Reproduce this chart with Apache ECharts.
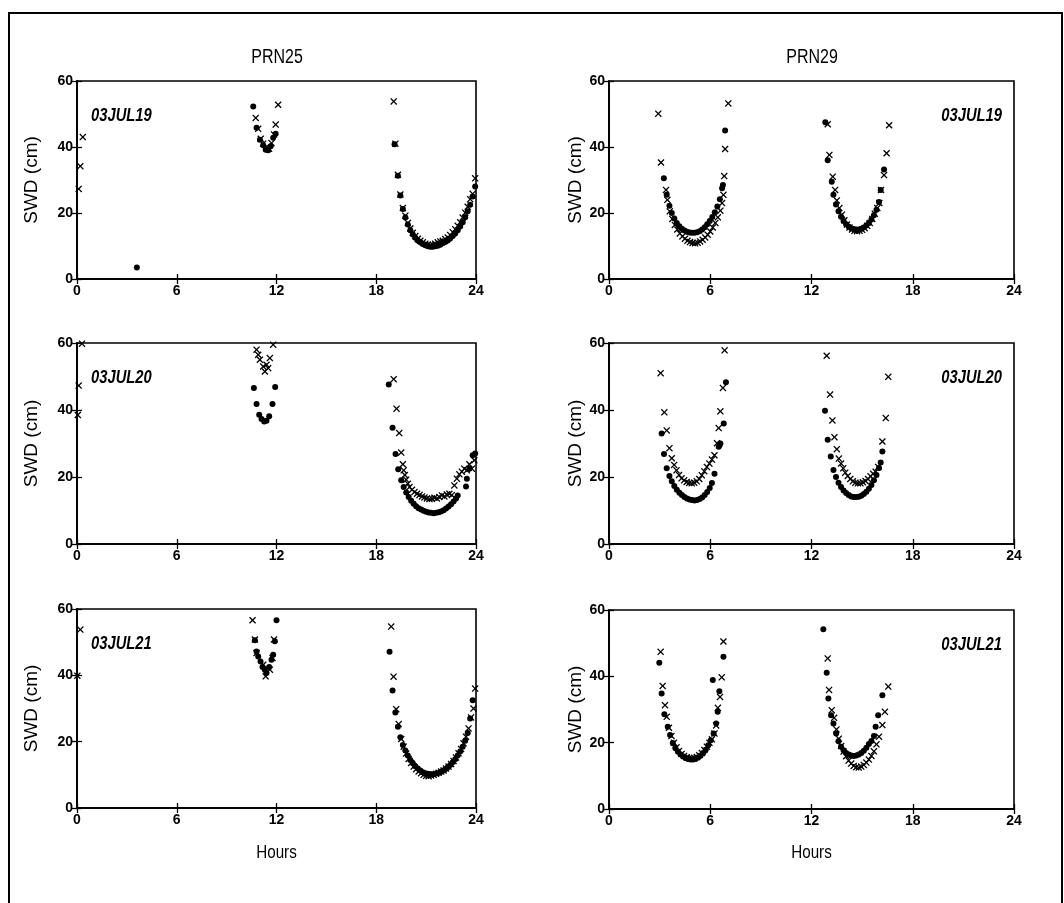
<!DOCTYPE html>
<html><head><meta charset="utf-8">
<script src="https://cdn.jsdelivr.net/npm/echarts@6/dist/echarts.min.js"></script>
<style>html,body{margin:0;padding:0;background:#fff}#c{width:1064px;height:903px}</style>
</head><body><div id="c"></div><script>
// ---------- labels ----------
const columnTitles = ['PRN25', 'PRN29'];
const dayLabels = ['03JUL19', '03JUL20', '03JUL21'];
const xAxisTitle = 'Hours';
const yAxisTitle = 'SWD (cm)';
const hourTicks = [0, 6, 12, 18, 24];
const swdTicks = [0, 20, 40, 60];

// ---------- PRN25, 03JUL19 ----------
const p25d19Dots = [[3.6,3.5],
 [10.6,52.3],[10.8,45.8],[11.0,42.2],[11.2,40.5],[11.35,39.2],[11.5,39],[11.65,40.2],[11.8,42.8],[11.95,44],
 [19.1,40.8],[19.3,31.3],[19.45,25.3],[19.6,21.2],[19.75,18.6],[19.9,16.5],[20.05,14.8],[20.2,13.5],[20.35,12.5],[20.5,11.7],[20.65,11.1],[20.8,10.6],[20.95,10.2],[21.1,9.9],[21.25,9.8],[21.4,9.8],[21.55,9.9],[21.7,10.1],[21.85,10.4],[22.0,10.8],[22.15,11.2],[22.3,11.7],[22.45,12.3],[22.6,13.0],[22.75,13.8],[22.9,14.8],[23.05,15.9],[23.2,17.2],[23.35,18.7],[23.5,20.5],[23.65,22.5],[23.8,25],[23.95,28]];
const p25d19Crosses = [[0.1,27.3],[0.2,34.2],[0.35,43],
 [10.75,48.8],[10.9,45.5],[11.05,42.5],[11.2,41],[11.4,40],[11.55,39.5],[11.7,41.2],[11.85,43.8],[11.95,46.8],[12.1,52.8],
 [19.05,53.8],[19.15,41],[19.3,31.6],[19.45,25.6],[19.6,21.5],[19.75,19.2],[19.9,17],[20.05,15.3],[20.2,14],[20.35,13],[20.5,12.2],[20.65,11.6],[20.8,11.1],[20.95,10.7],[21.1,10.4],[21.25,10.3],[21.4,10.4],[21.55,10.7],[21.7,11.1],[21.85,11.4],[22.0,11.6],[22.15,12.1],[22.3,12.6],[22.45,13.3],[22.6,14.2],[22.75,15.1],[22.9,16.1],[23.05,17.2],[23.2,18.6],[23.35,20.1],[23.5,21.9],[23.65,24.2],[23.8,25.8],[23.95,30.5]];

// ---------- PRN25, 03JUL20 ----------
const p25d20Dots = [
 [10.64,46.6],[10.8,41.8],[10.96,38.6],[11.1,37.3],[11.26,36.6],[11.4,36.8],[11.56,38.1],[11.76,41.8],[11.92,46.9],
 [18.75,47.6],[18.98,34.7],[19.16,26.9],[19.32,22.3],[19.5,19],[19.65,17],[19.8,15.4],[19.95,14],[20.1,12.9],[20.25,12],[20.4,11.3],[20.55,10.7],[20.7,10.3],[20.85,9.9],[21.0,9.6],[21.15,9.4],[21.3,9.3],[21.45,9.2],[21.6,9.3],[21.75,9.5],[21.9,9.7],[22.05,10.1],[22.2,10.6],[22.35,11.2],[22.5,11.9],[22.65,12.7],[22.8,13.6],[22.9,14.5],[23.4,17.2],[23.45,19.5],[23.6,22.5],[23.8,26.5],[23.95,27]];
const p25d20Crosses = [[0.05,38.5],[0.1,47.3],[0.3,59.8],
 [10.8,58],[10.9,56.5],[11.0,55],[11.2,53],[11.3,51.5],[11.4,53.5],[11.5,52.5],[11.6,55.5],[11.8,59.5],
 [19.05,49.2],[19.22,40.4],[19.38,33.1],[19.5,27.3],[19.6,23.8],[19.65,22],[19.72,20.6],[19.8,19.2],[19.9,18],[20.0,17],[20.15,16.2],[20.3,15.5],[20.45,15],[20.6,14.6],[20.75,14.2],[20.9,13.9],[21.05,13.6],[21.2,13.4],[21.35,13.5],[21.5,13.8],[21.65,13.6],[21.8,14],[21.95,14.5],[22.1,14.2],[22.25,14.8],[22.4,15],[22.55,14.6],[22.7,17.5],[22.85,19.5],[23.0,20.8],[23.15,21.6],[23.3,22.5],[23.45,22],[23.6,23.8],[23.75,22.5],[23.9,25]];

// ---------- PRN25, 03JUL21 ----------
const p25d21Dots = [
 [10.7,50.6],[10.8,47.2],[10.9,45.7],[11.04,44.2],[11.16,42.5],[11.3,41.7],[11.4,40.7],[11.56,42.5],[11.7,44.7],[11.8,46.2],[11.9,50.3],[12.0,56.6],
 [18.8,47.1],[18.98,35.4],[19.15,28.8],[19.3,24.5],[19.45,21.3],[19.6,19],[19.75,17.3],[19.9,15.8],[20.05,14.5],[20.2,13.5],[20.35,12.6],[20.5,11.9],[20.65,11.3],[20.8,10.8],[20.95,10.5],[21.1,10.3],[21.25,10.2],[21.4,10.2],[21.55,10.3],[21.7,10.5],[21.85,10.8],[22.0,11.2],[22.15,11.7],[22.3,12.3],[22.45,13],[22.6,13.8],[22.75,14.7],[22.9,15.8],[23.05,17],[23.2,18.5],[23.35,20.3],[23.5,22.6],[23.65,27],[23.8,32.5]];
const p25d21Crosses = [[0.02,39.9],[0.2,53.8],
 [10.56,56.6],[10.7,50.8],[10.8,46.7],[11.2,43.2],[11.35,39.7],[11.6,41.7],[11.76,45.2],[11.85,50.8],
 [18.9,54.7],[19.04,39.6],[19.2,29.8],[19.35,25.3],[19.5,20.8],[19.65,18.5],[19.8,16.4],[19.95,14.8],[20.1,13.6],[20.25,12.5],[20.4,11.7],[20.55,11],[20.7,10.5],[20.85,10],[21.0,9.7],[21.15,9.6],[21.3,9.8],[21.45,10],[21.6,10.3],[21.75,10.6],[21.9,11],[22.05,11.3],[22.2,11.9],[22.35,12.5],[22.5,13.3],[22.65,14.2],[22.8,15.2],[22.95,16.5],[23.1,17.8],[23.25,19.5],[23.4,21.5],[23.55,24],[23.7,27.3],[23.85,30],[23.95,36]];

// ---------- PRN29, 03JUL19 ----------
const p29d19Dots = [
 [3.25,30.5],[3.42,25.5],[3.58,22.2],[3.72,20],[3.87,18.3],[4.02,17],[4.17,16],[4.32,15.2],[4.47,14.7],[4.62,14.3],[4.77,14.1],[4.92,14],[5.07,14],[5.22,14.2],[5.37,14.5],[5.52,15],[5.67,15.7],[5.82,16.6],[5.97,17.6],[6.12,18.8],[6.27,20.2],[6.42,22],[6.57,24.2],[6.7,27.5],[6.75,28.5],[6.88,45],
 [12.82,47.5],[12.96,36],[13.2,29.5],[13.3,25.5],[13.45,22.6],[13.6,20.5],[13.75,18.9],[13.9,17.6],[14.05,16.6],[14.2,15.9],[14.35,15.4],[14.5,15.1],[14.65,15],[14.8,15],[14.95,15.2],[15.1,15.6],[15.25,16.2],[15.4,17],[15.55,18],[15.7,19.3],[15.85,21],[16.0,23.3],[16.1,27],[16.3,33.2]];
const p29d19Crosses = [
 [2.92,50.1],[3.08,35.3],[3.38,27],[3.46,24],[3.6,20.5],[3.75,18.2],[3.9,16.4],[4.05,15],[4.2,13.8],[4.35,12.9],[4.5,12.2],[4.65,11.6],[4.8,11.2],[4.95,10.9],[5.1,10.8],[5.25,11],[5.4,11.4],[5.55,11.9],[5.7,12.6],[5.85,13.4],[6.0,14.4],[6.15,15.6],[6.3,17],[6.45,18.7],[6.6,20.7],[6.7,23],[6.78,25.5],[6.83,31.2],[6.88,39.4],[7.07,53.2],
 [12.96,46.9],[13.06,37.6],[13.26,31],[13.4,27],[13.5,23.8],[13.65,21.5],[13.8,19.5],[13.95,17.8],[14.1,16.5],[14.25,15.6],[14.4,15],[14.55,14.6],[14.7,14.5],[14.85,14.6],[15.0,14.9],[15.15,15.4],[15.3,16.1],[15.45,17],[15.6,18.2],[15.75,19.8],[15.9,21.5],[16.02,23],[16.12,27],[16.3,31.5],[16.45,38.1],[16.6,46.6]];

// ---------- PRN29, 03JUL20 ----------
const p29d20Dots = [
 [3.12,33],[3.26,26.9],[3.42,22.6],[3.58,20.3],[3.72,18.7],[3.87,17.3],[4.02,16.2],[4.17,15.3],[4.32,14.6],[4.47,14],[4.62,13.6],[4.77,13.3],[4.92,13.1],[5.07,13],[5.22,13.1],[5.37,13.4],[5.52,13.9],[5.67,14.6],[5.82,15.5],[5.97,16.7],[6.1,18.2],[6.25,21],[6.5,29],[6.55,29.5],[6.6,30],[6.8,36],[6.93,48.3],
 [12.8,39.8],[12.96,31.1],[13.14,26.1],[13.3,22.1],[13.45,20],[13.6,18.3],[13.75,17],[13.9,16],[14.05,15.2],[14.2,14.6],[14.35,14.2],[14.5,14],[14.65,14],[14.8,14.1],[14.95,14.4],[15.1,14.9],[15.25,15.6],[15.4,16.5],[15.55,17.6],[15.7,19],[15.85,20.6],[16.0,22.7],[16.1,24.3],[16.2,27.6]];
const p29d20Crosses = [
 [3.06,51],[3.28,39.3],[3.42,33.9],[3.58,28.6],[3.72,25.6],[3.86,23.6],[4.0,22],[4.15,20.6],[4.3,19.6],[4.45,19],[4.6,18.5],[4.75,18.2],[4.9,18.1],[5.05,18.3],[5.2,18.7],[5.35,19.4],[5.5,20.5],[5.65,21.7],[5.8,23],[5.95,24],[6.1,25.2],[6.25,26.5],[6.4,30.1],[6.5,34.6],[6.6,39.6],[6.75,46.6],[6.85,57.8],
 [12.9,56.2],[13.1,44.6],[13.24,36.9],[13.36,31.9],[13.5,28.3],[13.62,25.5],[13.75,24],[13.88,22.6],[14.0,21.3],[14.15,20.3],[14.3,19.4],[14.45,18.7],[14.6,18.3],[14.75,18.1],[14.9,18.1],[15.05,18.4],[15.2,18.8],[15.35,19.4],[15.5,20.2],[15.65,21],[15.8,21.6],[15.95,23],[16.2,30.6],[16.4,37.6],[16.55,49.9]];

// ---------- PRN29, 03JUL21 ----------
const p29d21Dots = [
 [2.98,44.1],[3.12,34.8],[3.28,28.6],[3.48,24.8],[3.62,22.3],[3.78,19.9],[3.93,18.4],[4.08,17.3],[4.23,16.5],[4.38,15.9],[4.53,15.4],[4.68,15.1],[4.83,14.9],[4.98,14.9],[5.13,15.1],[5.28,15.5],[5.43,16.1],[5.58,16.9],[5.73,17.9],[5.88,19.2],[6.03,20.7],[6.15,38.9],[6.2,22.8],[6.35,25.8],[6.44,29.3],[6.54,35.5],[6.78,45.9],
 [12.7,54.2],[12.9,41.1],[13.0,33.3],[13.16,28.3],[13.3,25.8],[13.46,22.8],[13.6,20.4],[13.75,18.8],[13.9,17.7],[14.05,16.9],[14.2,16.4],[14.35,16.1],[14.5,16],[14.65,16.1],[14.8,16.4],[14.95,16.9],[15.1,17.6],[15.25,18.5],[15.4,19.6],[15.55,20.5],[15.7,22],[15.8,24.8],[15.95,28.3],[16.2,34.3]];
const p29d21Crosses = [
 [3.06,47.4],[3.18,37.1],[3.32,31.3],[3.42,27.8],[3.55,24.5],[3.7,22],[3.85,20],[4.0,18.6],[4.15,17.5],[4.3,16.6],[4.45,16],[4.6,15.6],[4.75,15.4],[4.9,15.3],[5.05,15.4],[5.2,15.7],[5.35,16.2],[5.5,16.9],[5.65,17.8],[5.8,18.8],[5.95,20],[6.1,21],[6.25,22.8],[6.35,25.2],[6.45,30.5],[6.58,33.8],[6.68,39.7],[6.78,50.5],
 [12.96,45.4],[13.04,35.9],[13.2,29.8],[13.34,27.5],[13.48,24],[13.62,21.2],[13.76,19],[13.9,17.3],[14.05,15.9],[14.2,14.6],[14.35,13.7],[14.5,13],[14.65,12.6],[14.8,12.5],[14.95,12.8],[15.1,13.3],[15.25,14],[15.4,14.9],[15.55,16],[15.7,17.4],[15.85,19.5],[16.0,21.8],[16.2,25.3],[16.35,29.3],[16.55,36.9]];

// ---------- layout ----------
const SANS = "'Liberation Sans',Arial,sans-serif";
const panels = [
  {rect:{left:77, top:81, width:399, height:198}, dots:p25d19Dots, crosses:p25d19Crosses, day:dayLabels[0], col:0, last:false},
  {rect:{left:609,top:81, width:405, height:198}, dots:p29d19Dots, crosses:p29d19Crosses, day:dayLabels[0], col:1, last:false},
  {rect:{left:77, top:343,width:399, height:201}, dots:p25d20Dots, crosses:p25d20Crosses, day:dayLabels[1], col:0, last:false},
  {rect:{left:609,top:343,width:405, height:201}, dots:p29d20Dots, crosses:p29d20Crosses, day:dayLabels[1], col:1, last:false},
  {rect:{left:77, top:609,width:399, height:199}, dots:p25d21Dots, crosses:p25d21Crosses, day:dayLabels[2], col:0, last:true},
  {rect:{left:609,top:610,width:405, height:199}, dots:p29d21Dots, crosses:p29d21Crosses, day:dayLabels[2], col:1, last:true}
];
const CROSS = 'path://M0,1.3L1.3,0L5,3.7L8.7,0L10,1.3L6.3,5L10,8.7L8.7,10L5,6.3L1.3,10L0,8.7L3.7,5Z';

const grid = [], xAxis = [], yAxis = [], series = [], graphic = [];
const line = {show:true, lineStyle:{color:'#000', width:1.6}};
const tick = {inside:true, length:5, lineStyle:{color:'#000', width:1.3}};
panels.forEach((p, i) => {
  grid.push(Object.assign({show:true, borderColor:'#000', borderWidth:1.6}, p.rect));
  const common = {min:hourTicks[0], max:hourTicks[hourTicks.length-1], interval:6, gridIndex:i, splitLine:{show:false}, axisLine:line, axisTick:tick};
  xAxis.push(Object.assign({type:'value', position:'bottom',
    axisLabel:{color:'#000', fontFamily:SANS, fontSize:14, margin:5, fontWeight:'bold'}}, common));
  xAxis.push(Object.assign({type:'value', position:'top', axisLabel:{show:false}}, common));
  const ycommon = {min:swdTicks[0], max:swdTicks[swdTicks.length-1], interval:20, gridIndex:i, splitLine:{show:false}, axisLine:line, axisTick:tick};
  yAxis.push(Object.assign({type:'value', position:'left',
    axisLabel:{color:'#000', fontFamily:SANS, fontSize:14, margin:4, fontWeight:'bold'},
    name:yAxisTitle, nameLocation:'middle', nameGap: p.col===0 ? 36 : 22, nameRotate:90,
    nameTextStyle:{color:'#000', fontFamily:SANS, fontSize:19}}, ycommon));
  yAxis.push(Object.assign({type:'value', position:'right', axisLabel:{show:false}}, ycommon));
  series.push({type:'scatter', xAxisIndex:2*i, yAxisIndex:2*i, data:p.dots, symbol:'circle', symbolSize:6,
    itemStyle:{color:'#000', opacity:1}, silent:true, clip:false});
  series.push({type:'scatter', xAxisIndex:2*i, yAxisIndex:2*i, data:p.crosses, symbol:CROSS, symbolSize:7,
    itemStyle:{color:'#000', opacity:1}, silent:true, clip:false});
  const r = p.rect;
  graphic.push({type:'text', z:10, scaleX:0.82,
    x: p.col===0 ? r.left+14 : r.left+r.width-12, y: r.top+35,
    style:{text:p.day, fill:'#000', font:'italic bold 18px ' + SANS,
      textAlign: p.col===0 ? 'left' : 'right', textVerticalAlign:'middle'}});
  if (p.last) {
    graphic.push({type:'text', z:10, scaleX:0.8, x: r.left + r.width/2, y: 853,
      style:{text:xAxisTitle, fill:'#000', font:'19px ' + SANS, textAlign:'center', textVerticalAlign:'middle'}});
  }
});
graphic.push({type:'text', scaleX:0.8, x:277, y:57, style:{text:columnTitles[0], fill:'#000', font:'20px '+SANS, textAlign:'center', textVerticalAlign:'middle'}});
graphic.push({type:'text', scaleX:0.8, x:812, y:57, style:{text:columnTitles[1], fill:'#000', font:'20px '+SANS, textAlign:'center', textVerticalAlign:'middle'}});
graphic.push({type:'rect', shape:{x:9, y:13, width:1053, height:905}, style:{fill:'none', stroke:'#000', lineWidth:2}});

const chart = echarts.init(document.getElementById('c'), null, {renderer:'canvas'});
chart.setOption({animation:false, backgroundColor:'#fff', grid, xAxis, yAxis, series, graphic});
</script></body></html>
